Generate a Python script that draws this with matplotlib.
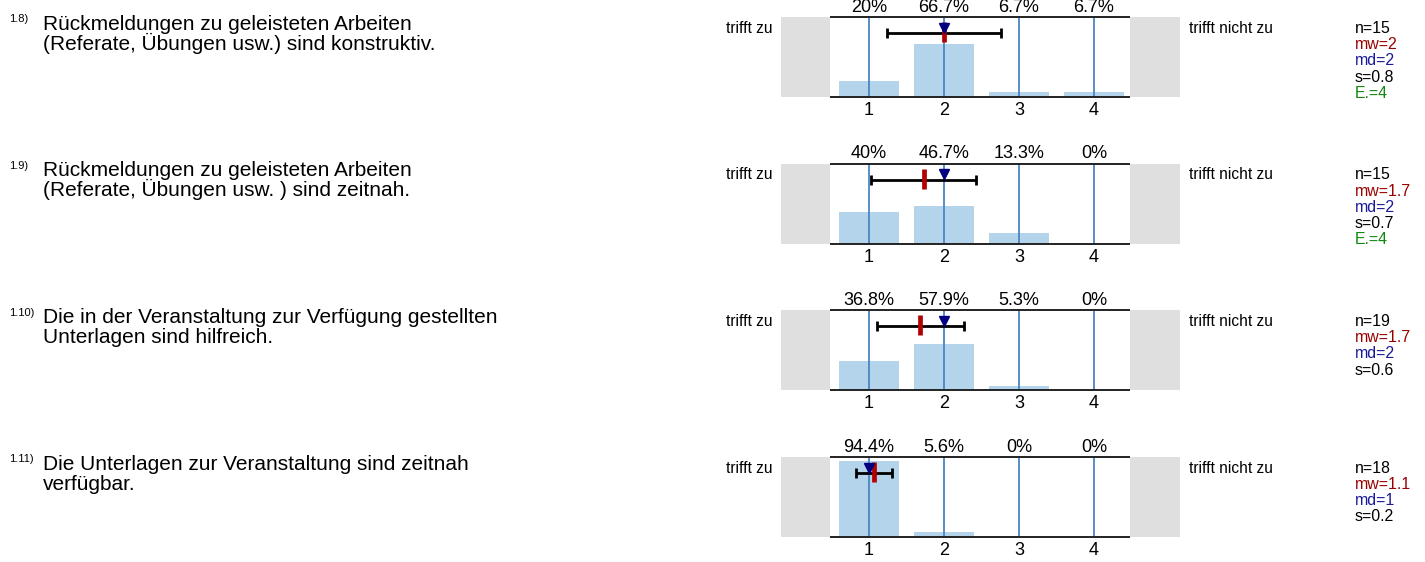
import matplotlib
matplotlib.use("Agg")
import matplotlib.pyplot as plt
from matplotlib.transforms import offset_copy

W, H = 1425, 562
plt.rcParams['font.family'] = ['Liberation Sans', 'DejaVu Sans']

# ---------------- data ----------------
numbers = ["1.8)", "1.9)", "1.10)", "1.11)"]
questions = [
    ["Rückmeldungen zu geleisteten Arbeiten", "(Referate, Übungen usw.) sind konstruktiv."],
    ["Rückmeldungen zu geleisteten Arbeiten", "(Referate, Übungen usw. ) sind zeitnah."],
    ["Die in der Veranstaltung zur Verfügung gestellten", "Unterlagen sind hilfreich."],
    ["Die Unterlagen zur Veranstaltung sind zeitnah", "verfügbar."],
]
categories = [1, 2, 3, 4]
pct_values = [
    [20, 66.7, 6.7, 6.7],
    [40, 46.7, 13.3, 0],
    [36.8, 57.9, 5.3, 0],
    [94.4, 5.6, 0, 0],
]
pct_labels = [
    ["20%", "66.7%", "6.7%", "6.7%"],
    ["40%", "46.7%", "13.3%", "0%"],
    ["36.8%", "57.9%", "5.3%", "0%"],
    ["94.4%", "5.6%", "0%", "0%"],
]
means = [2.0, 1.73, 1.68, 1.06]
medians = [2, 2, 2, 1]
sds = [0.76, 0.70, 0.58, 0.24]
n_vals = [15, 15, 19, 18]
mw_labels = ["2", "1.7", "1.7", "1.1"]
sd_labels = ["0.8", "0.7", "0.6", "0.2"]
abst = [4, 4, None, None]
left_label = "trifft zu"
right_label = "trifft nicht zu"

# ---------------- layout ----------------
fig = plt.figure(figsize=(W / 100, H / 100), dpi=100)
tops = [17, 163.5, 310, 456.7]
AX_L, AX_R = 781, 1180
PLOT_H = 80
x_left = 1 - (869 - AX_L) / 75.0
x_right = 1 + (AX_R - 869) / 75.0
white_l, white_r = 0.48, 4.48

bar_col = '#b4d4eb'
line_col = '#4a86c1'

def fx(x):
    return x / W

def fy(y):
    return 1 - y / H

for i in range(4):
    T = tops[i]
    ax = fig.add_axes([fx(AX_L), fy(T + PLOT_H), (AX_R - AX_L) / W, PLOT_H / H])
    ax.set_xlim(x_left, x_right)
    ax.set_ylim(0, 100)
    ax.axis('off')
    ax.axvspan(x_left, white_l, color='#dfdfdf', lw=0, zorder=0)
    ax.axvspan(white_r, x_right, color='#dfdfdf', lw=0, zorder=0)
    ax.bar(categories, pct_values[i], width=0.8, color=bar_col, zorder=1)
    ax.vlines(categories, 0, 100, color=line_col, lw=1.3, zorder=2)
    ax.hlines([0, 100], white_l, white_r, color='#222222', lw=1.4, zorder=3, clip_on=False)

    xtr = ax.get_xaxis_transform()
    below = offset_copy(xtr, fig=fig, x=0, y=-18, units='dots')
    above = offset_copy(xtr, fig=fig, x=0, y=5, units='dots')
    for c, lab in zip(categories, pct_labels[i]):
        ax.text(c, 0, str(c), transform=below, ha='center', va='baseline', fontsize=13)
        ax.text(c, 1, lab, transform=above, ha='center', va='baseline', fontsize=13)

    # mean +- sd, mean marker, median marker
    ax.errorbar(means[i], 80, xerr=sds[i], color='black', elinewidth=2.0,
                capsize=3.6, capthick=2.0, zorder=4)
    ax.plot([means[i], means[i]], [68.5, 93.5], color='#b30000', lw=3.4,
            solid_capstyle='butt', zorder=5)
    ax.plot(medians[i], 86.5, marker='v', ms=7.5, color='#000080', mec='#000080',
            zorder=6, ls='none')

    # texts
    fig.text(fx(772), fy(T + 16), left_label, ha='right', va='baseline', fontsize=11.2)
    fig.text(fx(1189), fy(T + 16), right_label, ha='left', va='baseline', fontsize=11.2)
    stats = [(f"n={n_vals[i]}", 'black'), (f"mw={mw_labels[i]}", '#990000'),
             (f"md={medians[i]}", '#1a1a99'), (f"s={sd_labels[i]}", 'black')]
    if abst[i] is not None:
        stats.append((f"E.={abst[i]}", '#118811'))
    for k, (s, col) in enumerate(stats):
        fig.text(fx(1355), fy(T + 16 + 16.2 * k), s, ha='left', va='baseline',
                 fontsize=11.4, color=col)

    fig.text(fx(9), fy(T + 5.5), numbers[i], ha='left', va='baseline', fontsize=8)
    for k, line in enumerate(questions[i]):
        fig.text(fx(43), fy(T + 13 + 20 * k), line, ha='left', va='baseline', fontsize=15)

fig.savefig('out.png', dpi=100)
